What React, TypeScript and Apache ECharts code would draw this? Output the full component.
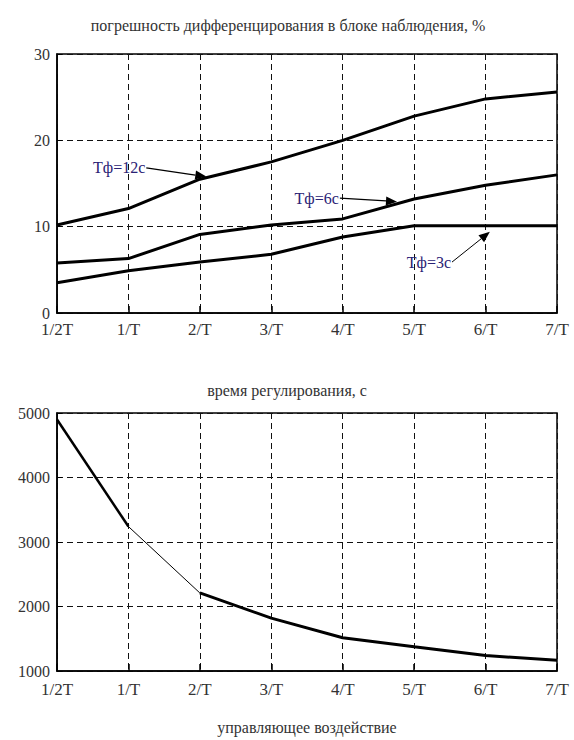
import React, { useEffect, useRef } from 'react';
import * as echarts from 'echarts';

// ---- data ----
const categories = ['1/2T', '1/T', '2/T', '3/T', '4/T', '5/T', '6/T', '7/T'];
const errorTf12 = [10.2, 12.1, 15.5, 17.5, 20.0, 22.8, 24.8, 25.6];
const errorTf6 = [5.8, 6.3, 9.1, 10.2, 10.9, 13.2, 14.8, 16.0];
const errorTf3 = [3.5, 4.9, 5.9, 6.8, 8.8, 10.1, 10.1, 10.1];
const settleTime = [4900, 3240, 2210, 1820, 1515, 1375, 1240, 1165];
const errorTicks = [0, 10, 20, 30];
const settleTicks = [1000, 2000, 3000, 4000, 5000];

const topTitle = 'погрешность дифференцирования в блоке наблюдения, %';
const bottomTitle = 'время регулирования, с';
const bottomAxisName = 'управляющее воздействие';

// annotation labels, anchored in data coordinates of the top chart
const labels = [
  { text: 'Тф=12с', from: [1.25, 16.8], to: [2.09, 15.8], thin: false },
  { text: 'Тф=6с', from: [3.96, 13.3], to: [4.76, 12.9], thin: false },
  { text: 'Тф=3с', from: [5.53, 5.9], to: [6.06, 9.4], thin: true },
];

const FONT = 'Liberation Serif, DejaVu Serif, serif';

export default function App() {
  const ref = useRef<HTMLDivElement>(null);

  useEffect(() => {
    const chart = echarts.init(ref.current!, null, { renderer: 'svg' });
    const pairs = (arr: number[]) => arr.map((v, i) => [i, v]);
    const seg = (arr: number[], a: number, b: number) =>
      arr.slice(a, b + 1).map((v, k) => [a + k, v]);

    const dashed = { type: [6, 4] as any, color: '#111', width: 1 };
    const xAxisFor = (gridIndex: number, margin: number, extra: any = {}) => ({
      type: 'value',
      gridIndex,
      min: 0,
      max: categories.length - 1,
      interval: 1,
      axisLine: { show: true, lineStyle: { color: '#000', width: 1.5 } },
      axisTick: { show: true, inside: true, length: 7, lineStyle: { color: '#000', width: 1.5 } },
      axisLabel: {
        formatter: (v: number) => categories[v] ?? '',
        margin,
        fontFamily: FONT,
        fontSize: 17,
        color: '#333',
      },
      splitLine: { show: true, lineStyle: dashed },
      ...extra,
    });
    const yAxisFor = (gridIndex: number, ticks: number[]) => ({
      type: 'value',
      gridIndex,
      min: ticks[0],
      max: ticks[ticks.length - 1],
      interval: ticks[1] - ticks[0],
      axisLine: { show: true, lineStyle: { color: '#000', width: 1.5 } },
      axisTick: { show: true, inside: true, length: 5, lineStyle: { color: '#000' } },
      axisLabel: {
        margin: 7,
        fontFamily: FONT,
        fontSize: 16,
        color: '#333',
        formatter: (v: number) => String(v),
      },
      splitLine: { show: true, lineStyle: dashed },
    });

    const lineSeries = (data: any[], xi: number, width: number) => ({
      type: 'line',
      xAxisIndex: xi,
      yAxisIndex: xi,
      data,
      symbol: 'none',
      lineStyle: { color: '#000', width },
      silent: true,
    });

    chart.setOption({
      animation: false,
      backgroundColor: '#fff',
      title: [
        {
          text: topTitle,
          left: 283,
          top: 12,
          textAlign: 'center',
          textStyle: { fontFamily: FONT, fontSize: 16, fontWeight: 'normal', color: '#333' },
        },
        {
          text: bottomTitle,
          left: 282,
          top: 377,
          textAlign: 'center',
          textStyle: { fontFamily: FONT, fontSize: 16, fontWeight: 'normal', color: '#333' },
        },
      ],
      grid: [
        { left: 57, right: 17, top: 54, height: 259, show: true, borderColor: '#000', borderWidth: 1.5 },
        { left: 57, right: 17, top: 413, height: 258, show: true, borderColor: '#000', borderWidth: 1.5 },
      ],
      xAxis: [
        xAxisFor(0, 8),
        xAxisFor(1, 10, {
          name: bottomAxisName,
          nameLocation: 'middle',
          nameGap: 48,
          nameTextStyle: { fontFamily: FONT, fontSize: 16, color: '#333' },
        }),
      ],
      yAxis: [yAxisFor(0, errorTicks), yAxisFor(1, settleTicks)],
      series: [
        lineSeries(pairs(errorTf12), 0, 3),
        lineSeries(pairs(errorTf6), 0, 3),
        lineSeries(pairs(errorTf3), 0, 3),
        lineSeries(seg(settleTime, 0, 1), 1, 2.5),
        lineSeries(seg(settleTime, 1, 2), 1, 1),
        lineSeries(seg(settleTime, 2, settleTime.length - 1), 1, 3),
      ],
    });

    // annotations: texts with arrows, positioned through the chart's own scales
    const graphics: any[] = [];
    labels.forEach((lb) => {
      const p0 = chart.convertToPixel({ gridIndex: 0 }, lb.from) as number[];
      const p1 = chart.convertToPixel({ gridIndex: 0 }, lb.to) as number[];
      const ang = Math.atan2(p1[1] - p0[1], p1[0] - p0[0]);
      const len = 11;
      const hw = 4.5;
      const bx = p1[0] - len * Math.cos(ang);
      const by = p1[1] - len * Math.sin(ang);
      const nx = -Math.sin(ang);
      const ny = Math.cos(ang);
      graphics.push({
        type: 'text',
        x: p0[0] - 1,
        y: p0[1],
        style: {
          text: lb.text,
          fontFamily: FONT,
          fontSize: 16,
          fill: '#2a2275',
          textAlign: 'right',
          textVerticalAlign: 'middle',
        },
        silent: true,
      });
      graphics.push({
        type: 'line',
        shape: { x1: p0[0], y1: p0[1], x2: bx, y2: by },
        style: { stroke: '#000', lineWidth: lb.thin ? 1 : 1.3 },
        silent: true,
      });
      graphics.push({
        type: 'polygon',
        shape: {
          points: [
            [p1[0], p1[1]],
            [bx + nx * hw, by + ny * hw],
            [bx - nx * hw, by - ny * hw],
          ],
        },
        style: { fill: '#000' },
        silent: true,
      });
    });
    chart.setOption({ graphic: graphics });

    return () => chart.dispose();
  }, []);

  return (
    <div
      ref={ref}
      style={{ position: 'absolute', left: 0, top: 0, width: 574, height: 740, background: '#fff' }}
    />
  );
}
